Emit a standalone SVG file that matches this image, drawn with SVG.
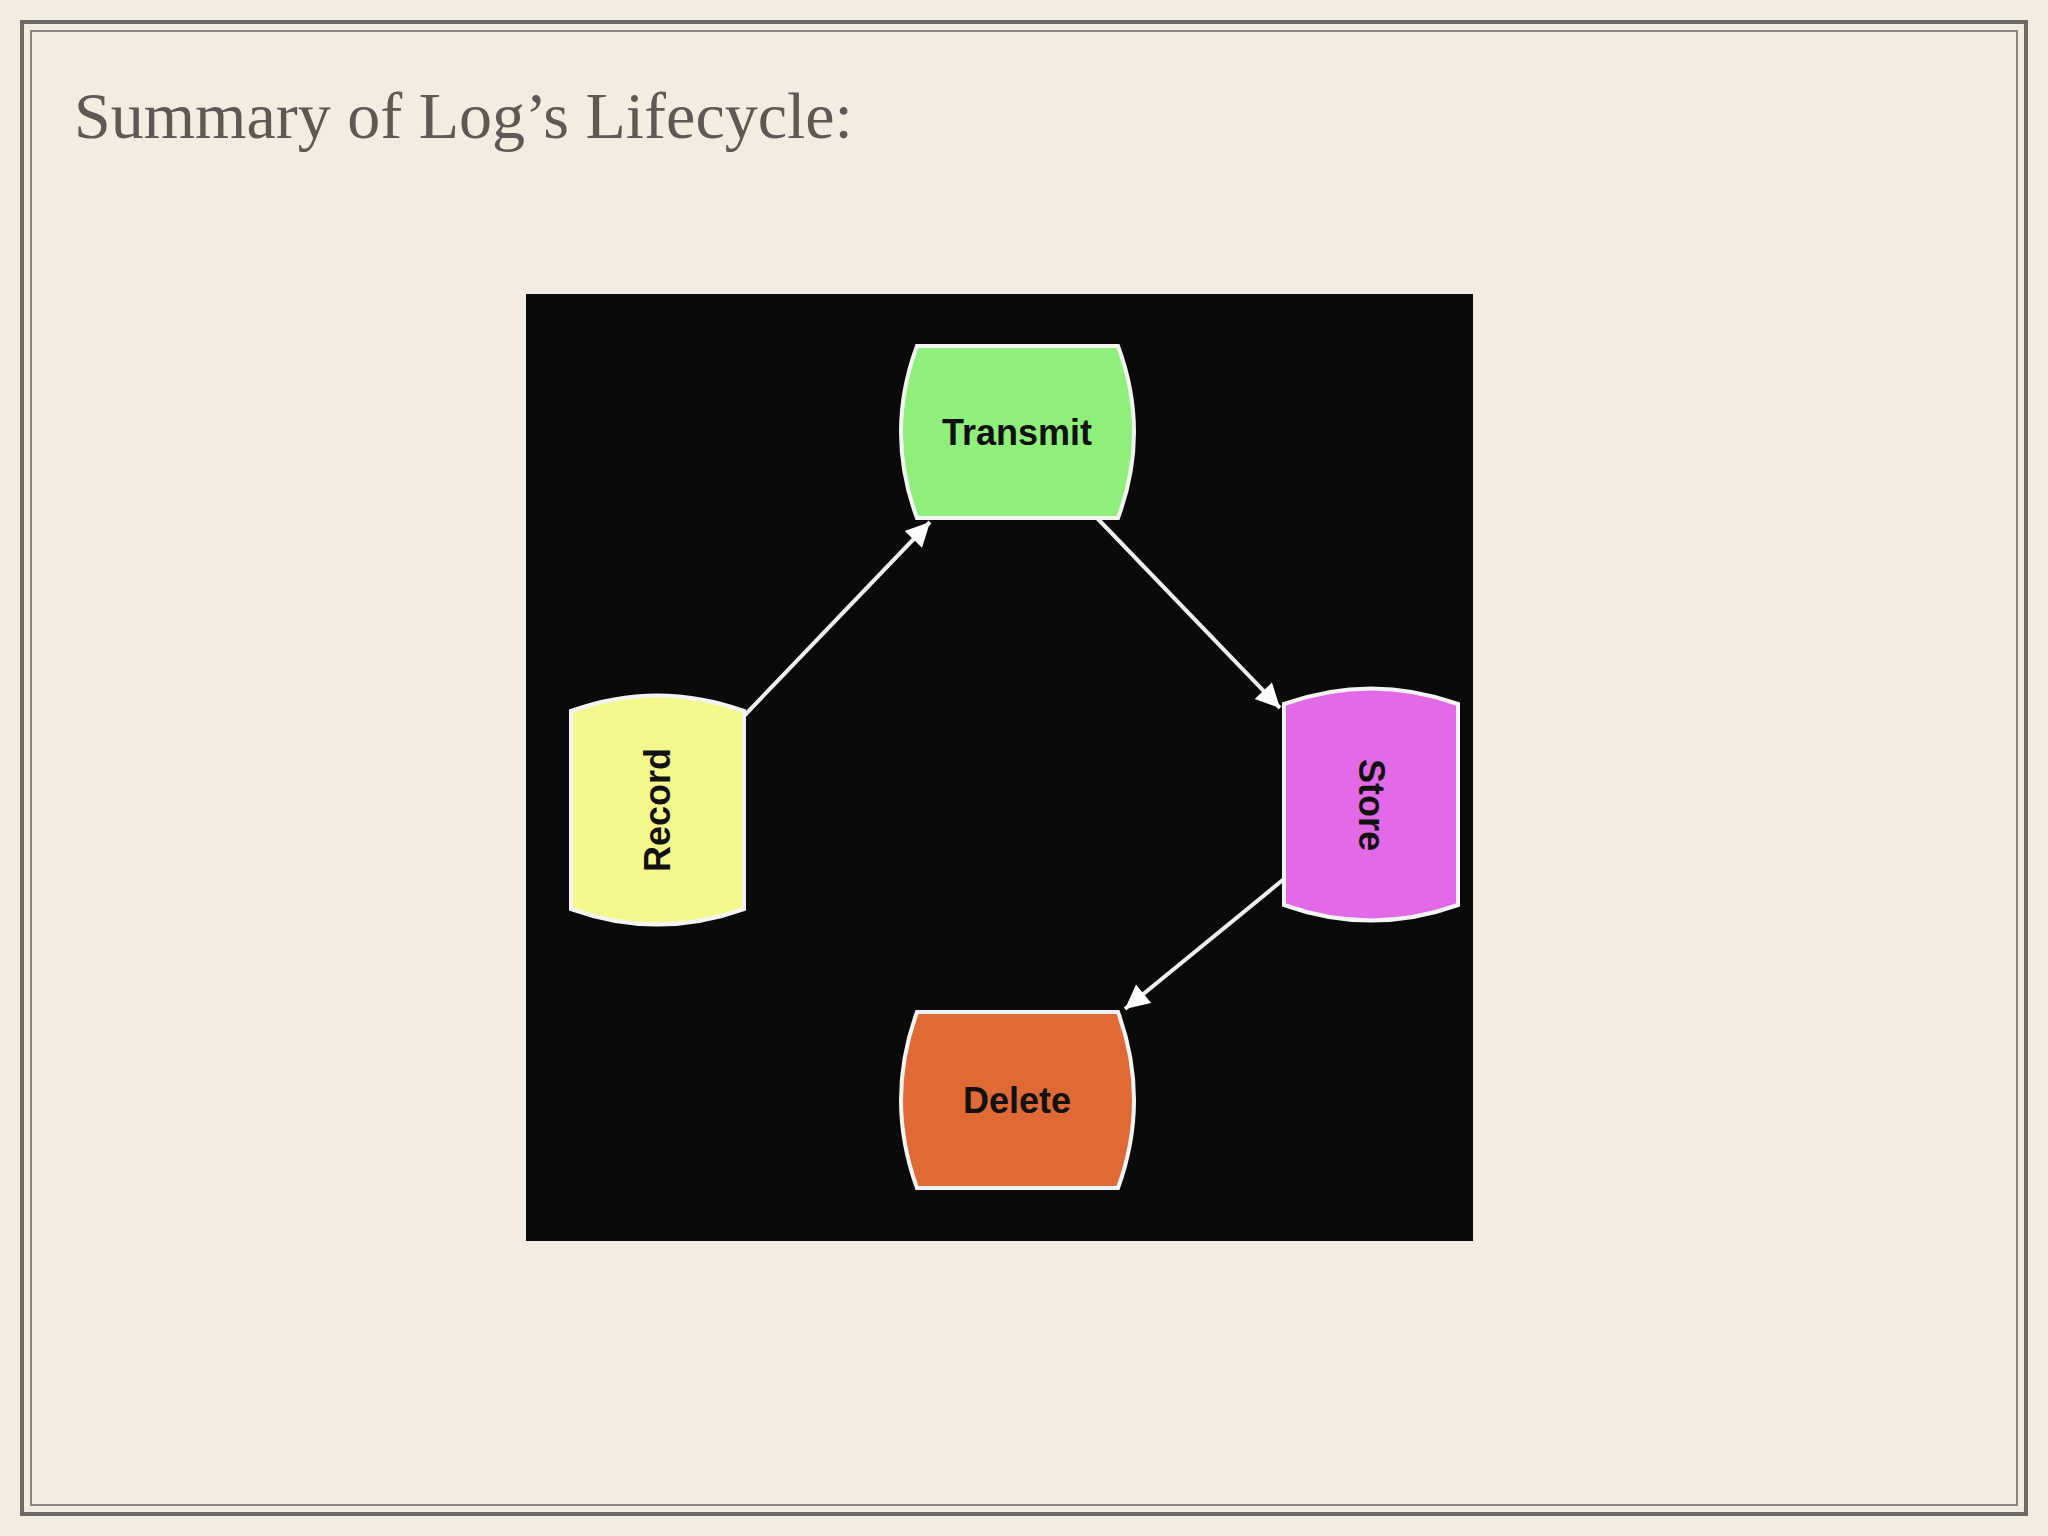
<svg xmlns="http://www.w3.org/2000/svg" width="2048" height="1536" viewBox="0 0 2048 1536">
<style>
.n{stroke:#f4f4f4;stroke-width:4}
.t{font-family:"Liberation Sans",Arial,sans-serif;font-weight:bold;font-size:36px;fill:#111;text-anchor:middle;dominant-baseline:central}
.c{stroke:#eee;stroke-width:4;fill:none;marker-end:url(#a)}
</style>
<defs><marker id="a" viewBox="0 0 10 10" refX="9" refY="5" markerWidth="8" markerHeight="8" markerUnits="userSpaceOnUse" orient="auto" style="overflow:visible"><path d="M0,0 L10,5 L0,10 z" fill="#fff" transform="scale(3) translate(-7,-3.33) scale(1)"/></marker></defs>
<rect width="2048" height="1536" fill="#f3ece0"/>
<rect x="22" y="22" width="2004" height="1492" fill="none" stroke="#6e6a66" stroke-width="4"/>
<rect x="31" y="31" width="1986" height="1474" fill="none" stroke="#8a8682" stroke-width="2"/>
<text x="74" y="138" font-family="'Liberation Serif','Times New Roman',serif" font-size="66" fill="#5e5955">Summary of Log’s Lifecycle:</text>
<rect x="526" y="294" width="947" height="947" fill="#0a0a0a"/>
<g id="connectors">
<line class="c" x1="744" y1="716" x2="930" y2="522"/>
<line class="c" x1="1097" y1="518" x2="1280" y2="708"/>
<line class="c" x1="1284" y1="879" x2="1125" y2="1009"/>
</g>
<g id="transmit"><path class="n" fill="#8ef07a" d="M917,346 H1118 Q1150,432 1118,518 H917 Q885,432 917,346 Z"/><text class="t" x="1017" y="432">Transmit</text></g>
<g id="record"><path class="n" fill="#f4f88c" d="M571,711 Q657,680 744,711 V909 Q657,940 571,909 Z"/><text class="t" transform="translate(657,810) rotate(-90)">Record</text></g>
<g id="store"><path class="n" fill="#e36ae6" d="M1284,704 Q1371,673 1458,704 V905 Q1371,936 1284,905 Z"/><text class="t" transform="translate(1371,805) rotate(90)">Store</text></g>
<g id="delete"><path class="n" fill="#e06a35" d="M917,1012 H1118 Q1150,1100 1118,1188 H917 Q885,1100 917,1012 Z"/><text class="t" x="1017" y="1100">Delete</text></g>
</svg>
